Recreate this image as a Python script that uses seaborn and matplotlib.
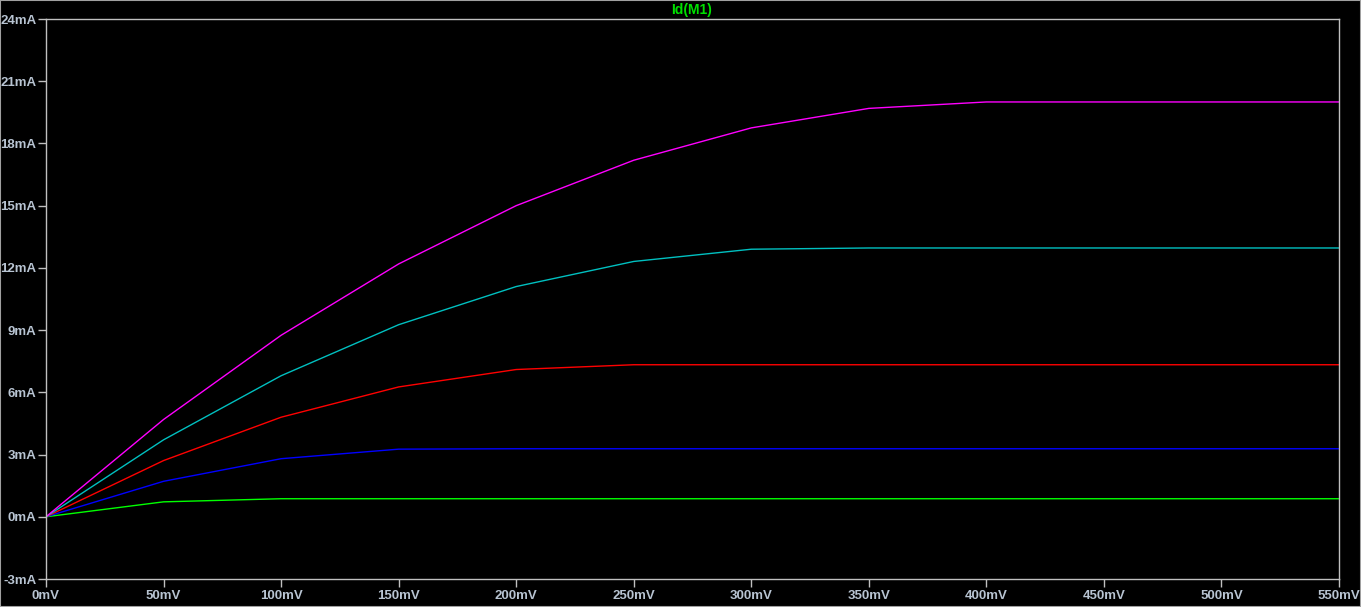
import numpy as np
import pandas as pd
import matplotlib
matplotlib.use('Agg')
import matplotlib.pyplot as plt
import seaborn as sns

# %% values (Vds sweep in mV, Id in mA)
vds = [0, 50, 100, 150, 200, 250, 300, 350, 400, 450, 500, 550]
id_green = [0, 0.72, 0.87, 0.87, 0.87, 0.87, 0.87, 0.87, 0.87, 0.87, 0.87, 0.87]
id_blue = [0, 1.71, 2.80, 3.26, 3.28, 3.28, 3.28, 3.28, 3.28, 3.28, 3.28, 3.28]
id_red = [0, 2.71, 4.80, 6.26, 7.10, 7.33, 7.33, 7.33, 7.33, 7.33, 7.33, 7.33]
id_cyan = [0, 3.71, 6.80, 9.26, 11.10, 12.31, 12.90, 12.96, 12.96, 12.96, 12.96, 12.96]
id_magenta = [0, 4.69, 8.75, 12.19, 15.00, 17.19, 18.75, 19.69, 20.00, 20.00, 20.00, 20.00]

curve_names = ['green', 'blue', 'red', 'cyan', 'magenta']
curve_colors = ['#00ff00', '#0000ff', '#ff0000', '#00c0c0', '#ff00ff']
yticks = [-3, 0, 3, 6, 9, 12, 15, 18, 21, 24]
xticks = [0, 50, 100, 150, 200, 250, 300, 350, 400, 450, 500, 550]

# %% long form table for seaborn
frames = []
for name, vals in zip(curve_names, [id_green, id_blue, id_red, id_cyan, id_magenta]):
    frames.append(pd.DataFrame({'vds': vds, 'id': vals, 'curve': name}))
df = pd.concat(frames, ignore_index=True)

# %% plot
grey = '#c0c0c0'
label_col = '#b8c4d2'
plt.rcParams['font.family'] = ['Liberation Sans', 'DejaVu Sans']

fig = plt.figure(figsize=(13.61, 6.07), dpi=100, facecolor='black')
W, H = 1361, 607
ax = fig.add_axes([46 / W, 1 - 579 / H, (1339 - 46) / W, (579 - 19) / H])
ax.set_facecolor('black')

sns.lineplot(data=df, x='vds', y='id', hue='curve', hue_order=curve_names,
             palette=curve_colors, estimator=None, sort=False, legend=False,
             linewidth=1.0, ax=ax)

ax.set_xlim(0, 550)
ax.set_ylim(-3, 24)
ax.set_xticks(xticks)
ax.set_xticklabels(['{}mV'.format(v) for v in xticks])
ax.set_yticks(yticks)
ax.set_yticklabels(['{}mA'.format(v) for v in yticks])
ax.set_xlabel('')
ax.set_ylabel('')
ax.tick_params(colors=grey, length=6, width=1.0, labelcolor=label_col,
               labelsize=9.5)
ax.tick_params(axis='y', pad=1)
ax.tick_params(axis='x', pad=2)
for lab in ax.get_xticklabels() + ax.get_yticklabels():
    lab.set_fontweight('bold')
for sp in ax.spines.values():
    sp.set_color(grey)
    sp.set_linewidth(1.0)

fig.text(692 / W, 1 - 10 / H, 'Id(M1)', color='#00e000', fontsize=10,
         fontweight='bold', ha='center', va='center')

# window border
fig.patches.append(plt.Rectangle((0, 0), 1, 1, transform=fig.transFigure,
                                 fill=False, edgecolor='#a0a0a0', linewidth=1.5))

fig.savefig('out.png', dpi=100, facecolor='black')
